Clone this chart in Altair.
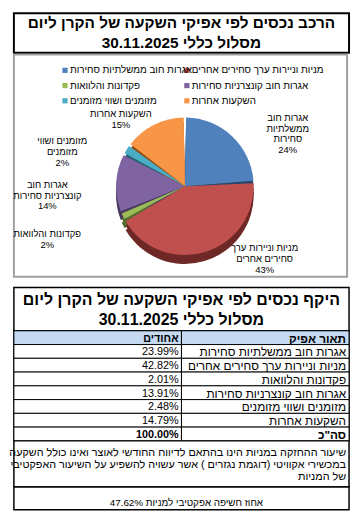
import altair as alt
import pandas as pd

FONT = "Liberation Sans, Arial, DejaVu Sans, sans-serif"

# ---------------- data ----------------
categories = [
    "אגרות חוב ממשלתיות סחירות",
    "מניות וניירות ערך סחירים אחרים",
    "פקדונות והלוואות",
    "אגרות חוב קונצרניות סחירות",
    "מזומנים ושווי מזומנים",
    "השקעות אחרות",
]
values = [23.99, 42.82, 2.01, 13.91, 2.48, 14.79]
slice_labels = [
    "אגרות חוב|ממשלתיות|סחירות",
    "מניות וניירות ערך|סחירים אחרים",
    "פקדונות והלוואות",
    "אגרות חוב|קונצרניות סחירות",
    "מזומנים ושווי|מזומנים",
    "השקעות אחרות",
]
colors = ["#4F81BD", "#C0504D", "#9BBB59", "#8064A2", "#4BACC6", "#F79646"]
side_colors = ["#2A4466", "#6E2826", "#556B2C", "#46375C", "#24606F", "#8E4A10"]

title_lines = ["הרכב נכסים לפי אפיקי השקעה של הקרן ליום", "30.11.2025 מסלול כללי"]
table_title_lines = ["היקף נכסים לפי אפיקי השקעה של הקרן ליום", "30.11.2025 מסלול כללי"]
header = ["אחודים", "תאור אפיק"]
total_label = 'סה"כ'
note_lines = [
    "שיעור ההחזקה במניות הינו בהתאם לדיווח החודשי לאוצר ואינו כולל השקעה",
    "במכשירי אקוויטי (דוגמת נגזרים ) אשר עשויה להשפיע על השיעור האפקטיבי",
    "של המניות",
]
effective_label = "אחוז חשיפה אפקטיבי למניות"
effective_value = 47.62

# ---------------- layout constants ----------------
W = 341
PIE_W, PIE_H = 339, 226
CX, CY, R, DEPTH = 174, 134, 70, 9
LX, LY, RX, RY = 176, 148, 150, 92
LH = 11
LEGX, LEGY, LEG_COLW, LEG_ROWH = 52, 16, 124, 15.5

pie_df = pd.DataFrame({
    "idx": list(range(len(categories))),
    "cat": categories,
    "value": values,
    "wrap": slice_labels,
    "side": side_colors,
})
dummy = pd.DataFrame({"a": [0]})


def spacer(h):
    return alt.Chart(dummy).mark_text(text=" ", opacity=0).encode(
        x=alt.value(1), y=alt.value(1)
    ).properties(width=W, height=h,
                 view=alt.ViewBackground(strokeOpacity=0, fillOpacity=0))


# ---------------- title box ----------------
title_panel = alt.Chart(dummy).mark_text(
    font=FONT, fontSize=15.6, fontWeight="bold", lineHeight=20,
    align="center", baseline="middle", color="black"
).encode(
    x=alt.value(W / 2), y=alt.value(10), text=alt.value(title_lines)
).properties(width=W, height=40,
             view=alt.ViewBackground(stroke="black", strokeWidth=2, fill="white"))

# ---------------- pie ----------------
base = alt.Chart(pie_df)
theta = alt.Theta("value:Q", stack=True)
order = alt.Order("idx:Q")
cscale = alt.Scale(domain=categories, range=colors)

side_a = base.mark_arc(radius=R, padAngle=0.035).encode(
    theta=theta, order=order, fill=alt.Fill("side:N", scale=None),
    x=alt.value(CX), y=alt.value(CY + DEPTH))
side_b = base.mark_arc(radius=R, padAngle=0.035).encode(
    theta=theta, order=order, fill=alt.Fill("side:N", scale=None),
    x=alt.value(CX), y=alt.value(CY + DEPTH / 2))
top = base.mark_arc(radius=R, padAngle=0.035).encode(
    theta=theta, order=order,
    color=alt.Color("cat:N", sort=categories, scale=cscale, legend=None),
    x=alt.value(CX), y=alt.value(CY))

labels = base.transform_joinaggregate(
    total="sum(value)"
).transform_window(
    cum="sum(value)", sort=[alt.SortField("idx")], frame=[None, 0]
).transform_calculate(
    mid="(datum.cum - datum.value / 2) / datum.total * 2 * PI",
    lines="split(datum.wrap + '|' + format(datum.value / 100, '.0%'), '|')",
).transform_calculate(
    lx=f"clamp({LX} + {RX} * sin(datum.mid) * (cos(datum.mid) < 0 ? 1.85 : 1), 34, 305)",
    ly=f"clamp({LY} - {RY} * cos(datum.mid), 20, 208) - (length(datum.lines) - 1) * {LH} / 2",
).mark_text(font=FONT, fontSize=9.6, lineHeight=LH, color="black",
            align="center", baseline="middle").encode(
    x=alt.X("lx:Q", scale=None, axis=None),
    y=alt.Y("ly:Q", scale=None, axis=None),
    text="lines:N")

leg = base.transform_calculate(
    lgx=f"{LEGX} + (datum.idx % 2) * {LEG_COLW}",
    lgy=f"{LEGY} + floor(datum.idx / 2) * {LEG_ROWH}",
)
leg_sq = leg.mark_square(size=28, opacity=1).encode(
    x=alt.X("lgx:Q", scale=None, axis=None),
    y=alt.Y("lgy:Q", scale=None, axis=None),
    color=alt.Color("cat:N", sort=categories, scale=cscale, legend=None))
leg_tx = leg.mark_text(font=FONT, fontSize=10, align="left", baseline="middle",
                       dx=5, color="black").encode(
    x=alt.X("lgx:Q", scale=None, axis=None),
    y=alt.Y("lgy:Q", scale=None, axis=None),
    text="cat:N")

pie_panel = alt.layer(side_a, side_b, top, labels, leg_sq, leg_tx).properties(
    width=PIE_W, height=PIE_H,
    view=alt.ViewBackground(stroke="#A0A0A0", strokeWidth=2, fill="white"))

# ---------------- table ----------------
ttitle = alt.Chart(dummy).mark_text(
    font=FONT, fontSize=16.2, fontWeight="bold", lineHeight=20,
    align="center", baseline="middle", color="black"
).encode(
    x=alt.value(W / 2), y=alt.value(13), text=alt.value(table_title_lines)
).properties(width=W, height=44,
             view=alt.ViewBackground(stroke="black", strokeWidth=1.5, fill="white"))

rows = [
    {"row": 0, "col": "pct", "text": header[0], "bold": True, "fill": "#C5D9F1"},
    {"row": 0, "col": "desc", "text": header[1], "bold": True, "fill": "#C5D9F1"},
]
for i, (c, v) in enumerate(zip(categories, values)):
    rows.append({"row": i + 1, "col": "pct", "text": f"{v:.2f}%", "bold": False, "fill": "white"})
    rows.append({"row": i + 1, "col": "desc", "text": c, "bold": False, "fill": "white"})
total = sum(values)
rows.append({"row": 7, "col": "pct", "text": f"{total:.2f}%", "bold": True, "fill": "white"})
rows.append({"row": 7, "col": "desc", "text": total_label, "bold": True, "fill": "white"})
grid_df = pd.DataFrame(rows)

xs = alt.Scale(domain=["pct", "desc"], paddingInner=0, paddingOuter=0)
ys = alt.Scale(paddingInner=0, paddingOuter=0)
gbase = alt.Chart(grid_df)
cells = gbase.mark_rect(stroke="black", strokeWidth=1).encode(
    x=alt.X("col:N", scale=xs, axis=None),
    y=alt.Y("row:O", scale=ys, axis=None),
    fill=alt.Fill("fill:N", scale=None))


def cell_text(filt, weight, size):
    return gbase.transform_filter(filt).mark_text(
        font=FONT, fontSize=size, fontWeight=weight, align="right", baseline="middle",
        dx=-3, dy=1, color="black").encode(
        x=alt.X("col:N", scale=xs, axis=None, bandPosition=1),
        y=alt.Y("row:O", scale=ys, axis=None),
        text="text:N")


t1 = cell_text("!datum.bold && datum.col == 'pct'", "normal", 11)
t2 = cell_text("!datum.bold && datum.col == 'desc'", "normal", 12)
t3 = cell_text("datum.bold && datum.col == 'pct'", "bold", 11)
t4 = cell_text("datum.bold && datum.col == 'desc'", "bold", 12)
grid = alt.layer(cells, t1, t2, t3, t4).properties(
    width=W, height=112,
    view=alt.ViewBackground(stroke="black", strokeWidth=1.5))

note = alt.Chart(dummy).mark_text(
    font=FONT, fontSize=11, lineHeight=12.5, align="right", baseline="middle", color="black"
).encode(
    x=alt.value(W - 3), y=alt.value(12), text=alt.value(note_lines)
).properties(width=W, height=47,
             view=alt.ViewBackground(stroke="black", strokeWidth=1.5, fill="white"))

last = alt.Chart(dummy).mark_text(
    font=FONT, fontSize=10, align="center", baseline="middle", color="black"
).encode(
    x=alt.value(W / 2 + 5), y=alt.value(16),
    text=alt.value(f"{effective_label}  {effective_value:.2f}%")
).properties(width=W, height=23,
             view=alt.ViewBackground(stroke="black", strokeWidth=1.5, fill="white"))

chart = alt.vconcat(
    title_panel, spacer(2), pie_panel, spacer(11), ttitle, grid, note, last,
    spacing=0, bounds="flush"
).properties(
    padding=0, background="white"
).configure_view(stroke=None)

chart.save("out.html", embed_options={"renderer": "svg", "actions": False})
